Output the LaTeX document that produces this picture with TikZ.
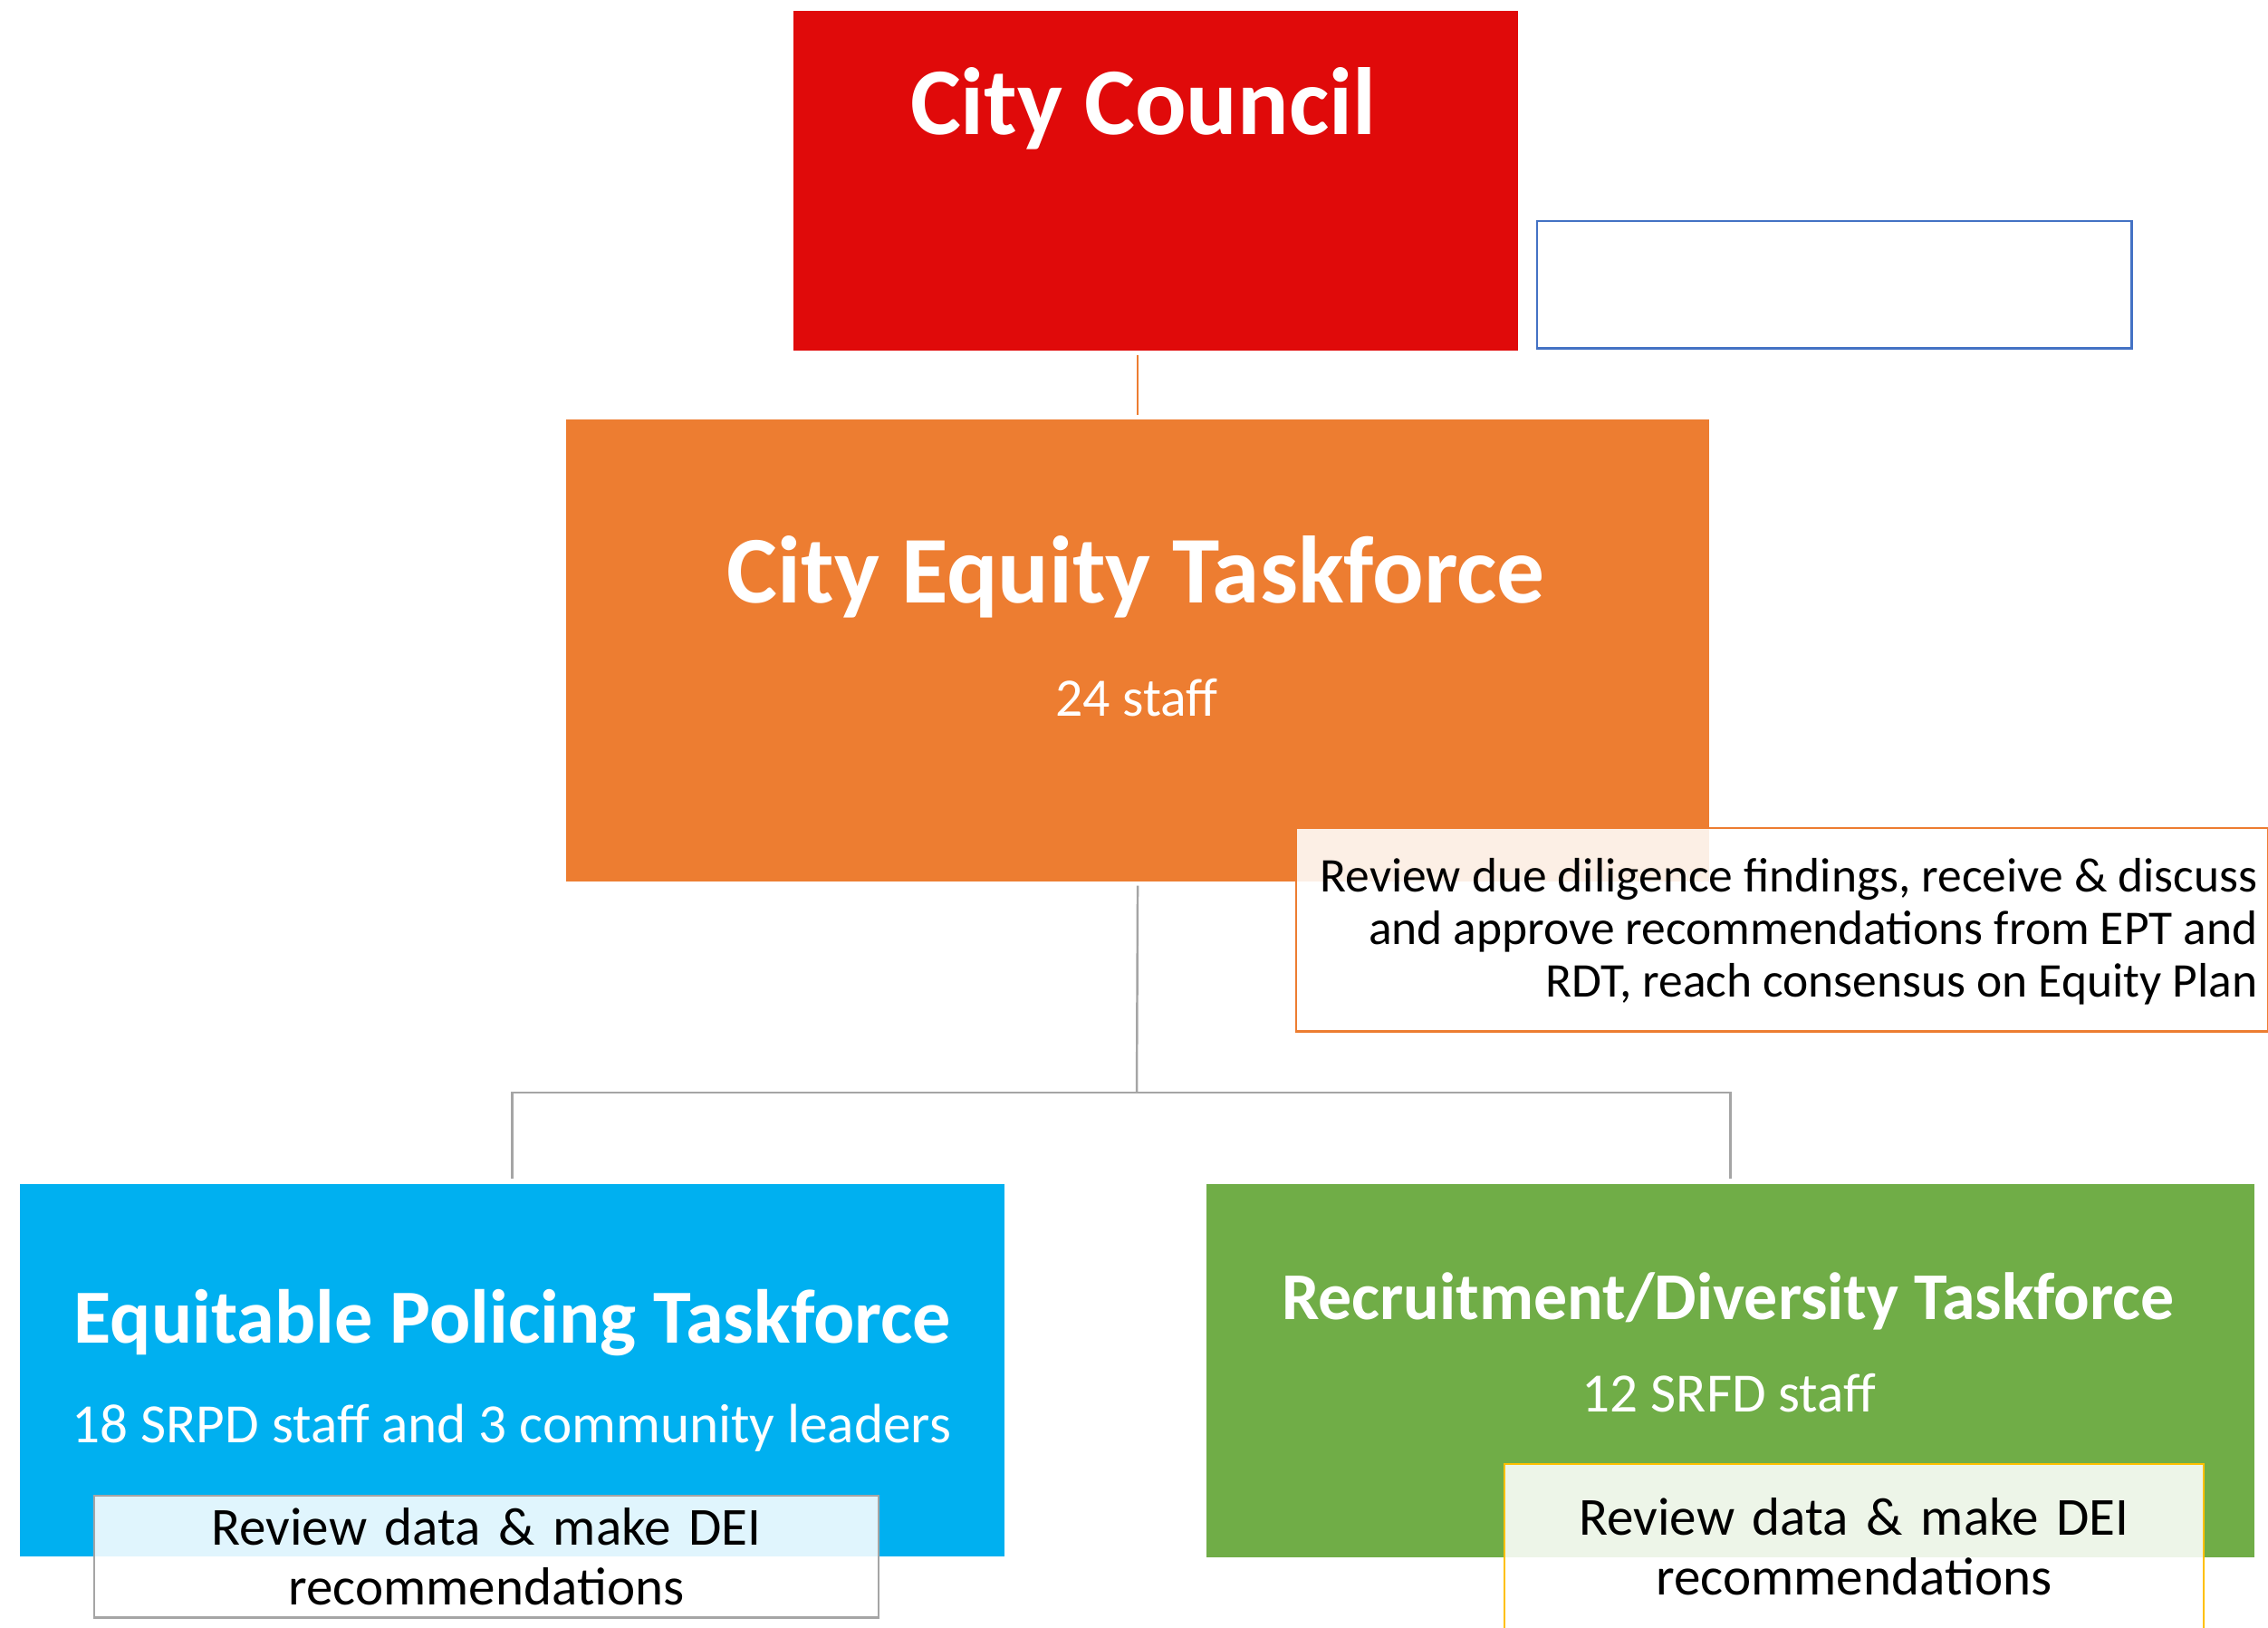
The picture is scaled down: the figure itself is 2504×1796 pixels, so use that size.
\documentclass[tikz,border=0pt]{standalone}
\usepackage{fontspec}
\setmainfont{Carlito}
\definecolor{councilred}{HTML}{E00A0A}
\definecolor{taskorange}{HTML}{ED7D31}
\definecolor{policeblue}{HTML}{00B0F0}
\definecolor{diversegreen}{HTML}{70AD47}
\definecolor{linkgray}{HTML}{A5A5A5}
\definecolor{frameblue}{HTML}{4472C4}
\definecolor{noteyellow}{HTML}{FFC000}
\begin{document}
\begin{tikzpicture}[x=0.01cm,y=-0.01cm,
    box/.style={rectangle,inner sep=0pt,anchor=north west},
    note/.style={rectangle,anchor=north west,fill=white,fill opacity=0.88,
      text opacity=1,line width=0.7pt,inner ysep=0pt,inner xsep=1.2mm},
    title/.style={anchor=base,text=white,font=\fontsize{30}{36}\selectfont\bfseries},
    subtitle/.style={anchor=base,text=white,font=\fontsize{17.4}{20}\selectfont},
    link/.style={draw=linkgray,line width=0.7pt}]
  \useasboundingbox (0,0) rectangle (2504,1796);
  % boxes
  \node[box,fill=councilred,minimum width=80mm,minimum height=37.5mm] (cc) at (875,11) {};
  \node[box,draw=frameblue,line width=0.7pt,minimum width=65.6mm,minimum height=14mm] (blank) at (1696,243) {};
  \node[box,fill=taskorange,minimum width=126.2mm,minimum height=51mm] (cet) at (624,462) {};
  \node[box,fill=policeblue,minimum width=108.7mm,minimum height=41.1mm] (ept) at (21,1306) {};
  \node[box,fill=diversegreen,minimum width=115.7mm,minimum height=41.2mm] (rdt) at (1331,1306) {};
  % texts
  \node[title] (cctitle) at (1262,148) {City Council};
  \node[title] (cettitle) at (1254,665) {City Equity Taskforce};
  \node[subtitle,font=\fontsize{17}{20}\selectfont] (cetstaff) at (1255,790) {24 staff};
  \node[title,font=\fontsize{24}{28}\selectfont\bfseries] (epttitle) at (566,1482) {Equitable Policing Taskforce};
  \node[subtitle] (eptstaff) at (565,1592) {18 SRPD staff and 3 community leaders};
  \node[title,font=\fontsize{21}{25}\selectfont\bfseries] (rdttitle) at (1908,1456) {Recruitment/Diversity Taskforce};
  \node[subtitle] (rdtstaff) at (1909,1558) {12 SRFD staff};
  % connectors
  \draw[link,draw=taskorange,shorten <=0.4mm,shorten >=0.4mm] (cet.north) -- (cet.north |- cc.south);
  \coordinate (fork) at (1255,1206);
  \draw[link,shorten <=0.4mm] (cet.south) -- (fork);
  \draw[link,shorten >=0.5mm] (fork) -| (ept.north);
  \draw[link,shorten >=0.5mm] (fork) -| (rdt.north);
  % notes
  \node[note,draw=taskorange,minimum width=107.2mm,minimum height=22.4mm] (cetnote) at (1430,913) {};
  \node[anchor=east,align=right,inner sep=0pt,font=\fontsize{15.2}{16.5}\selectfont]
    (cetnotetext) at ([xshift=-1.2mm,yshift=-0.2mm]cetnote.east)
    {Review due diligence findings, receive \& discuss\\and approve recommendations from EPT and\\RDT, reach consensus on Equity Plan};
  \node[note,draw=linkgray,text width=84.1mm,minimum height=13.4mm,align=center,
    font=\fontsize{16.8}{18.8}\selectfont] (eptnote) at (103,1650)
    {Review data \& make DEI\\recommendations};
  \node[note,text width=74.5mm,minimum height=18mm,align=center,
    font=\fontsize{16.8}{18.8}\selectfont] (rdtnote) at (1661,1616)
    {Review data \& make DEI\\recommendations};
  \draw[draw=noteyellow,line width=0.6pt] (rdtnote.south west) -- (rdtnote.north west)
    -- (rdtnote.north east) -- (rdtnote.south east);
\end{tikzpicture}
\end{document}
